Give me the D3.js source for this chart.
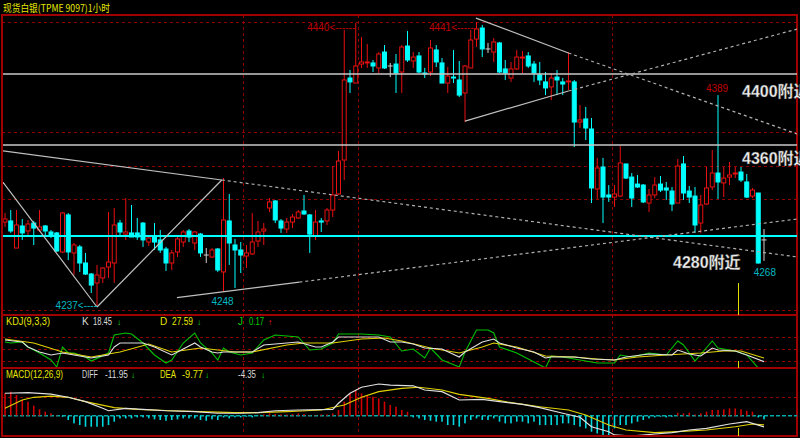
<!DOCTYPE html>
<html><head><meta charset="utf-8">
<script src="https://cdnjs.cloudflare.com/ajax/libs/d3/7.8.5/d3.min.js"></script>
<style>html,body{margin:0;padding:0;background:#000;overflow:hidden}svg{display:block}</style>
</head><body><svg id="c" width="800" height="438"></svg>
<script>
// ---------- DATA ----------
const title = "现货白银(TPME 9097)1小时";
const open = [4297.8,4298.6,4279.2,4295,4291.4,4297.1,4292.1,4295,4290.7,4290,
4276.4,4302.9,4275.7,4280,4268.5,4260.6,4254.2,4257.8,4265.6,4268.5,
4297.1,4289.2,4290,4290,4297.1,4283.5,4287.1,4285,4278.5,4268.5,
4276.4,4283.5,4291.4,4282.8,4289.2,4274.2,4272.8,4278.5,4262.1,4298.6,
4281.4,4277.8,4273.5,4275,4284.2,4291.4,4307.9,4312.9,4298.6,4292.8,
4297.8,4300.7,4305.7,4302.9,4287.8,4298.6,4298.6,4306.4,4317.9,4342.2,
4400.9,4397.3,4410.9,4411.7,4411.7,4408.1,4419.5,4409.5,4410.9,4405.2,
4423.8,4413.1,4416.7,4404.5,4405.2,4421,4411.7,4397.3,4401.6,4399.5,
4390.2,4408.1,4428.8,4436.7,4421.7,4419.5,4426,4407.4,4400.9,4407.4,
4415.2,4416.7,4410.9,4403.1,4398.1,4394.5,4401.6,4398.1,4398.1,4398.1,
4369.4,4371.6,4364.4,4321.5,4337.2,4317.2,4315.7,4316.4,4339.4,4330,
4325,4324.3,4311.4,4317.2,4325,4322.2,4320,4311.4,4339.4,4320,
4316.4,4297.1,4310.7,4322.9,4332.9,4325.8,4330,4332.2,4333.6,4326.5,
4316.4,4318.6,4285];
const close = [4300,4291.4,4295.7,4290,4296.4,4293.5,4294.3,4291.4,4287.8,4277.1,
4304.3,4276.4,4281.4,4268.5,4260.6,4252.7,4259.9,4264.9,4269.2,4295.7,
4290.7,4290.7,4287.1,4287.1,4285,4286.4,4283.5,4277.8,4268.5,4275.7,
4285.7,4290.7,4287.1,4290.7,4275.7,4274.2,4277.8,4263.5,4299.3,4282.8,
4277.8,4274.2,4275.7,4283.5,4290.7,4292.8,4312.2,4299.3,4293.5,4297.8,
4301.4,4305,4303.6,4289.2,4297.8,4297.8,4306.4,4317.2,4341.5,4399.5,
4398.1,4409.5,4412.4,4412.4,4409.5,4418.1,4408.1,4409.5,4404.5,4423.1,
4413.8,4415.9,4405.2,4403.8,4422.4,4412.4,4397.3,4402.3,4400.9,4388.7,
4409.5,4428.1,4436,4421.7,4421.7,4426.7,4405.2,4404.5,4407.4,4415.9,
4415.9,4409.5,4404.5,4399.5,4393.8,4400.9,4399.5,4396.6,4398.8,4369.4,
4370.9,4365.1,4322.2,4336.5,4315.7,4315.7,4317.9,4340.1,4329.3,4315,
4322.9,4312.2,4317.2,4324.3,4320.7,4320.7,4310.7,4337.9,4318.6,4315.7,
4295.7,4310,4322.2,4332.9,4326.5,4329.3,4331.5,4332.9,4327.9,4315.7,
4320.7,4268.5,4285];
const high = [4304.3,4306.4,4306.4,4300,4299.3,4298.6,4306.4,4295.7,4292.1,4290.7,
4305,4304.3,4282.8,4281.4,4275.7,4261.3,4267.1,4265.6,4305,4307.9,
4299.3,4315,4310,4300.7,4297.8,4287.8,4297.1,4292.1,4280,4277.8,
4288.5,4292.1,4292.8,4291.4,4290,4279.2,4279.2,4279.2,4329.3,4317.9,
4285.7,4283.5,4281.4,4304.3,4298.6,4297.1,4315,4313.6,4300,4300.7,
4303.6,4306.4,4317.2,4303.6,4306.4,4300.7,4307.9,4337.9,4348.7,4435.3,
4406.6,4440.3,4430.3,4425.3,4413.8,4419.5,4424.5,4411.7,4418.1,4424.5,
4434.6,4419.5,4419.5,4408.1,4428.1,4424.5,4415.2,4408.8,4421,4413.1,
4410.2,4435.3,4441,4438.9,4426,4429.5,4426.7,4413.8,4412.4,4421,
4420.2,4419.5,4413.1,4412.4,4405.2,4404.5,4406.6,4400.9,4419.5,4399.5,
4381.6,4380.2,4372.3,4343.7,4343.7,4324.3,4324.3,4352.2,4339.4,4332.9,
4331.5,4325,4321.5,4330,4330.8,4326.5,4322.9,4342.9,4345.1,4323.6,
4322.9,4317.2,4337.2,4349.4,4388.7,4337.2,4340.8,4337.2,4337.2,4332.2,
4322.2,4318.6,4292.8];
const low = [4294.3,4290,4279.2,4285,4287.1,4281.4,4290.7,4288.5,4286.4,4276.4,
4275.7,4270.6,4259.9,4262.1,4259.9,4247,4237,4254.2,4257.8,4254.2,
4288.5,4285,4287.1,4285,4280,4280.7,4277.8,4275.7,4262.8,4263.5,
4272.8,4280,4283.5,4277.8,4272.8,4268.5,4272.1,4262.1,4247.7,4267.1,
4250.6,4261.3,4264.9,4274.2,4280,4281.4,4305,4297.1,4290,4290,
4293.5,4300,4302.9,4275.7,4285,4290.7,4295.7,4301.4,4317.2,4327.9,
4390.2,4397.3,4408.1,4408.1,4405.2,4404.5,4407.4,4401.6,4390.2,4390.2,
4412.4,4408.1,4404.5,4400.9,4402.3,4408.8,4397.3,4390.2,4397.3,4387.3,
4369.4,4408.1,4423.1,4415.9,4418.8,4412.4,4404.5,4399.5,4398.1,4406.6,
4404.5,4408.1,4398.1,4395.9,4388.7,4385.2,4388.7,4388.7,4392.3,4351.5,
4365.1,4356.5,4311.4,4314.3,4297.1,4312.2,4308.6,4315.7,4328.6,4308.6,
4322.2,4311.4,4305,4315,4319.3,4313.6,4305.7,4311.4,4313.6,4311.4,
4290,4290,4310,4320.7,4314.3,4315.7,4324.3,4329.3,4326.5,4315,
4315,4268,4270];

// KDJ(9,3,3) readings: [candle index, value]
const kLine = [[0,72.5],[3,67.5],[4,55],[6,42.5],[8,35],[10,40],[12,35],[15,27.5],[18,35],[19,55],[20,65],[22,65],[24,65],[26,55],[29,35],[30,42.5],[33,65],[34,55],[36,42.5],[37,40],[38,42.5],[40,42.5],[43,42.5],[45,60],[49,65],[51,67.5],[54,55],[55,55],[57,67.5],[58,80],[62,80],[65,80],[67,67.5],[69,67.5],[71,62.5],[73,52.5],[76,50],[79,30],[80,42.5],[83,67.5],[85,75],[86,65],[89,52.5],[92,42.5],[94,27.5],[95,30],[99,30],[102,25],[106,22.5],[108,30],[112,37.5],[116,35],[117,47.5],[119,37.5],[121,32.5],[123,52.5],[124,47.5],[127,45],[129,35],[132,18.45]];
const dLine = [[0,75],[5,65],[10,42.5],[15,30],[20,42.5],[25,62.5],[29,42.5],[34,52.5],[40,42.5],[43,42.5],[49,60],[52,65],[57,65],[62,75],[66,77.5],[69,70],[74,52.5],[79,40],[83,55],[85,65],[89,55],[94,32.5],[99,30],[103,25],[106,22.5],[110,30],[115,35],[121,40],[125,45],[128,45],[132,27.59]];
const jLine = [[0,67.5],[1,65],[3,67.5],[4,55],[6,40],[8,22.5],[9,5],[10,55],[11,40],[12,40],[14,30],[15,20],[18,40],[19,85],[21,90],[22,87.5],[24,65],[26,35],[28,15],[29,22.5],[31,65],[33,90],[34,65],[36,40],[37,22.5],[38,52.5],[39,42.5],[41,35],[43,40],[45,72.5],[47,85],[51,80],[53,47.5],[55,50],[57,65],[58,87.5],[62,87.5],[65,85],[67,80],[69,45],[71,50],[73,27.5],[74,52.5],[76,22.5],[79,5],[80,42.5],[82,97.5],[84,97.5],[85,90],[86,55],[89,40],[94,2.5],[95,32.5],[97,30],[101,20],[103,15],[106,15],[107,35],[109,30],[112,40],[115,35],[117,70],[118,60],[120,20],[123,70],[124,52.5],[127,45],[129,35],[131,2.5],[132,0.17]];

// MACD(12,26,9) readings
const diffLine = [[0,24],[4,24.6],[8,23],[11,19.7],[14,15],[17,7.9],[18,5.3],[21,7.9],[24,6.8],[28,5.3],[33,4.3],[37,2.6],[41,2.6],[44,3.2],[47,5.3],[51,6.1],[57,6.8],[58,13.3],[60,24],[62,30.4],[65,33.9],[67,32.8],[71,32],[73,27.5],[76,25.7],[79,16.8],[83,17.5],[86,15],[90,12.2],[93,8.6],[97,2.6],[100,-1.7],[102,-11.8],[105,-17.1],[106,-20.6],[109,-21.7],[113,-19.6],[116,-18.2],[119,-15.3],[122,-13.5],[126,-8.9],[129,-6.4],[132,-11.95]];
const deaLine = [[0,7.9],[3,16.8],[5,19.7],[8,21],[11,19.7],[14,15],[19,8.6],[23,6.8],[29,5.3],[34,4.3],[40,3.2],[44,3.2],[49,4.3],[55,6.1],[59,11.4],[62,19.7],[65,25.7],[69,29.3],[72,30.4],[76,27.5],[79,22.9],[84,18.6],[88,13.9],[93,9.6],[98,6.1],[101,0.7],[105,-9.9],[108,-15.3],[113,-18.2],[117,-17.1],[122,-15.3],[127,-11.8],[130,-8.9],[132,-9.77]];
const macdHist = [23.9,25.7,22.1,16.8,15,10.7,6.8,4.3,2.5,0.5,
-1.1,-4.6,-8.2,-10,-11.8,-11.8,-11.8,-11.8,-10,-6.4,
-2.9,-2.9,-2.9,-1.8,-1.8,-2.9,-3.9,-4.6,-5.4,-4.6,
-3.9,-2.9,-2.9,-2.9,-4.6,-5.4,-3.9,-4.6,-1.8,-2.9,
-1.8,-1.8,-1.1,-1.8,-0.4,1.4,2.5,1.8,1.4,1.4,
1.8,2.5,1.8,0.7,0.7,1.4,1.4,2.5,6.1,15,
23.9,27.5,23.9,22.1,20.3,18.5,15,11.4,9.6,6.1,
4.3,-1.8,-2.9,-4.6,-5.4,-6.4,-6.4,-10,-10,-11.8,
-8.2,-4.6,-2.9,-4.6,-4.6,-2.9,-6.4,-8.2,-8.2,-6.4,
-6.4,-8.2,-6.4,-10,-10,-10,-10,-8.2,-8.2,-10,
-11.8,-13.5,-17.1,-18.9,-20.7,-20.7,-13.5,-10,-10,-8.2,
-6.4,-4.6,-2.9,-1.8,-1.1,-1.8,-1.1,3.2,2.5,3.2,
1.4,2.5,4.3,6.1,6.1,6.8,7.8,7.8,6.8,5.3,
4.3,-1.8,-3.9];

// annotations
const supportLevels = [4403.8, 4353];     // white horizontal lines
const cyanLevel = 4287.8;                 // cyan horizontal line
const gridPrices = [4441, 4362.3, 4337.9, 4314.3, 4235.2];
const kdjGrid = [20, 50, 80];
const macdGrid = [20];
const daySeparators = [41.4, 61.4, 105.6];
const cursorIndex = 127.5;
const trendLines = [
  {pts:[[-0.5,4327.2],[16,4237]], dash:false},
  {pts:[[16,4237],[37.7,4327.9]], dash:false},
  {pts:[[-0.5,4348.9],[37.7,4327.9]], dash:false},
  {pts:[[37.7,4327.9],[137.8,4272.8]], dash:true},
  {pts:[[29.9,4243.7],[51.2,4254.8]], dash:false},
  {pts:[[51.2,4254.8],[137.8,4300]], dash:true},
  {pts:[[81.9,4443.8],[98,4418.8]], dash:false},
  {pts:[[98,4418.8],[137.8,4360.8]], dash:true},
  {pts:[[80,4370.1],[98,4391.6]], dash:false},
  {pts:[[98,4391.6],[137.8,4436]], dash:true}
];
const extremeLabels = [
  {i:61, p:4440.3, text:"4440<------", color:"#c00000", anchor:"end", dx:-0.5, dy:8.5},
  {i:82, p:4441, text:"4441<------", color:"#c00000", anchor:"end", dx:0.5, dy:8.5},
  {i:16, p:4237, text:"4237<----", color:"#00b8c0", anchor:"end", dx:0, dy:1.5},
  {i:38, p:4248, text:"4248", color:"#00b8c0", anchor:"middle", dx:-1, dy:13},
  {i:124, p:4389, text:"4389", color:"#c00000", anchor:"middle", dx:-1, dy:-3},
  {i:131, p:4268, text:"4268", color:"#00b8c0", anchor:"start", dx:-4.5, dy:12}
];
const zoneLabels = [
  {text:"4400附近", x:742, y:97},
  {text:"4360附近", x:742, y:164},
  {text:"4280附近", x:673, y:268}
];

// ---------- DRAW ----------
const svg = d3.select('#c');
svg.append('rect').attr('width',800).attr('height',438).attr('fill','#000');
const n = open.length;
const x = d3.scaleLinear().domain([0, n-1]).range([5, 764]);
const y = d3.scaleLinear().domain([4237, 4441]).range([307, 22]);
const yK = d3.scaleLinear().domain([0, 100]).range([369, 329]);
const yM = d3.scaleLinear().domain([0, 20]).range([415.7, 397]);

const L = 2, R = 797, T = 15, S1 = 315, S2 = 368, B = 436;
const defs = svg.append('defs');
function clip(id, y0, y1){
  defs.append('clipPath').attr('id', id).append('rect')
    .attr('x', L+1).attr('y', y0).attr('width', R-L-1).attr('height', y1-y0);
}
clip('cMain', T+1, S1-1); clip('cKdj', S1+1, S2-1); clip('cMacd', S2+1, B-1);

const gridCol = '#900000', frameCol = '#a00000';
const gGrid = svg.append('g').attr('stroke', gridCol).attr('stroke-dasharray','3,3').attr('stroke-width',1);
gridPrices.forEach(p => gGrid.append('line').attr('x1',L).attr('x2',R).attr('y1',Math.round(y(p))+0.5).attr('y2',Math.round(y(p))+0.5));
kdjGrid.forEach(v => gGrid.append('line').attr('x1',L).attr('x2',R).attr('y1',Math.round(yK(v))+0.5).attr('y2',Math.round(yK(v))+0.5));
macdGrid.forEach(v => gGrid.append('line').attr('x1',L).attr('x2',R).attr('y1',Math.round(yM(v))+0.5).attr('y2',Math.round(yM(v))+0.5));
daySeparators.forEach(i => gGrid.append('line').attr('x1',Math.round(x(i))+0.5).attr('x2',Math.round(x(i))+0.5).attr('y1',T).attr('y2',B));

const gF = svg.append('g').attr('stroke', frameCol).attr('stroke-width', 2).attr('fill','none');
[T, S1, S2, B].forEach(v => gF.append('line').attr('x1',L-1).attr('x2',R+1).attr('y1',v).attr('y2',v));
[L, R].forEach(v => gF.append('line').attr('x1',v).attr('x2',v).attr('y1',T).attr('y2',B));

const cx = Math.round(x(cursorIndex))+0.5;
[[283,S1],[361,S2],[428,B]].forEach(s => svg.append('line').attr('x1',cx).attr('x2',cx).attr('y1',s[0]).attr('y2',s[1]).attr('stroke','#e0e000').attr('stroke-width',1));

// ---- main panel ----
const gMain = svg.append('g').attr('clip-path','url(#cMain)');
const idx = d3.range(n);
const bw = 4;
const gC = gMain.append('g');
idx.forEach(i => {
  const o = open[i], c = close[i], h = high[i], l = low[i];
  const cxp = x(i);
  const up = c > o, flat = c === o;
  const col = flat ? '#d0d0d0' : (up ? '#e81010' : '#00ffff');
  const top = y(Math.max(o,c)), bot = y(Math.min(o,c));
  if (flat) {
    gC.append('line').attr('x1',cxp).attr('x2',cxp).attr('y1',y(h)).attr('y2',y(l)).attr('stroke',col).attr('stroke-width',1);
    gC.append('line').attr('x1',cxp-2.5).attr('x2',cxp+2.5).attr('y1',top).attr('y2',top).attr('stroke',col).attr('stroke-width',1);
    return;
  }
  gC.append('line').attr('x1',cxp).attr('x2',cxp).attr('y1',y(h)).attr('y2',top).attr('stroke',col).attr('stroke-width',1);
  gC.append('line').attr('x1',cxp).attr('x2',cxp).attr('y1',bot).attr('y2',y(l)).attr('stroke',col).attr('stroke-width',1);
  gC.append('rect').attr('x',cxp-bw/2).attr('y',top).attr('width',bw).attr('height',Math.max(bot-top,0.8))
    .attr('fill', up ? '#000' : col).attr('stroke',col).attr('stroke-width',1);
});

supportLevels.forEach(p => gMain.append('line').attr('x1',L).attr('x2',R).attr('y1',y(p)).attr('y2',y(p)).attr('stroke','#c8c8c8').attr('stroke-width',1.5));
gMain.append('line').attr('x1',L).attr('x2',R).attr('y1',y(cyanLevel)).attr('y2',y(cyanLevel)).attr('stroke','#00ffff').attr('stroke-width',2);

const tl = d3.line().x(d => x(d[0])).y(d => y(d[1]));
trendLines.forEach(t => gMain.append('path').attr('d', tl(t.pts)).attr('fill','none')
  .attr('stroke', t.dash ? '#b0b0b0' : '#c0c0c0').attr('stroke-width', 1.2)
  .attr('stroke-dasharray', t.dash ? '3,3' : null));

extremeLabels.forEach(a => gMain.append('text').attr('x', x(a.i)+a.dx).attr('y', y(a.p)+a.dy)
  .attr('text-anchor', a.anchor).attr('fill', a.color)
  .attr('font-family','"Liberation Sans", Arial, sans-serif').attr('font-size', 10).text(a.text));

zoneLabels.forEach(z => svg.append('text').attr('x', z.x).attr('y', z.y)
  .attr('fill','#f2f2f2').attr('stroke','#555').attr('stroke-width',0.4)
  .attr('font-family','"Liberation Sans", "Noto Sans CJK SC", sans-serif').attr('font-weight','bold')
  .attr('font-size', 16).text(z.text));

// ---- KDJ ----
const gK = svg.append('g').attr('clip-path','url(#cKdj)');
const kl = d3.line().x(d => x(d[0])).y(d => yK(d[1]));
[[jLine,'#00c000'],[dLine,'#e0d000'],[kLine,'#e0e0e0']].forEach(s =>
  gK.append('path').attr('d', kl(s[0])).attr('fill','none').attr('stroke', s[1]).attr('stroke-width', 1.1));

// ---- MACD ----
const gM = svg.append('g').attr('clip-path','url(#cMacd)');
gM.append('line').attr('x1',L).attr('x2',R).attr('y1',yM(0)).attr('y2',yM(0)).attr('stroke','#00a8a8').attr('stroke-width',1.5).attr('stroke-dasharray','4,2');
idx.forEach(i => {
  const v = macdHist[i];
  gM.append('rect').attr('x', x(i)-0.8).attr('width', 1.6)
    .attr('y', Math.min(yM(v), yM(0))).attr('height', Math.abs(yM(v)-yM(0)))
    .attr('fill', v >= 0 ? '#d00000' : '#00d8e0');
});
const ml = d3.line().x(d => x(d[0])).y(d => yM(d[1]));
gM.append('path').attr('d', ml(deaLine)).attr('fill','none').attr('stroke','#e0d000').attr('stroke-width',1.2);
gM.append('path').attr('d', ml(diffLine)).attr('fill','none').attr('stroke','#e0e0e0').attr('stroke-width',1.2);

// ---- texts ----
const font = '"Liberation Sans", "Noto Sans CJK SC", sans-serif';
svg.append('text').attr('x',3).attr('y',12).attr('fill','#e8e800').attr('font-family','"Noto Sans CJK SC", sans-serif')
  .attr('font-size',10).attr('textLength',107).attr('lengthAdjust','spacingAndGlyphs').text(title);
function t(str, xx, yy, col, len, fs){
  const e = svg.append('text').attr('x',xx).attr('y',yy).attr('fill',col).attr('font-family',font).attr('font-size',fs||10).text(str);
  if (len) e.attr('textLength',len).attr('lengthAdjust','spacingAndGlyphs');
  return e;
}
t('KDJ(9,3,3)', 6, 325, '#e8e800', 44);
t('K', 82, 325, '#d8d8d8'); t('18.45', 93, 325, '#d8d8d8', 19); t('↓', 117, 325, '#00e000', null, 8);
t('D', 160, 325, '#e8e800'); t('27.59', 172, 325, '#e8e800', 21); t('↓', 197, 325, '#00e000', null, 8);
t('J', 238, 325, '#00d000'); t('0.17', 249, 325, '#00d000', 15); t('↑', 268, 325, '#ff2020', null, 8);
t('MACD(12,26,9)', 6, 378, '#e8e800', 57);
t('DIFF', 82, 378, '#d8d8d8', 16); t('-11.95', 105, 378, '#d8d8d8', 23); t('↓', 131, 378, '#00e000', null, 8);
t('DEA', 160, 378, '#e8e800', 16); t('-9.77', 182, 378, '#e8e800', 21); t('↓', 205, 378, '#00e000', null, 8);
t('-4.35', 238, 378, '#d8d8d8', 18); t('↓', 261, 378, '#00e000', null, 8);
</script></body></html>
